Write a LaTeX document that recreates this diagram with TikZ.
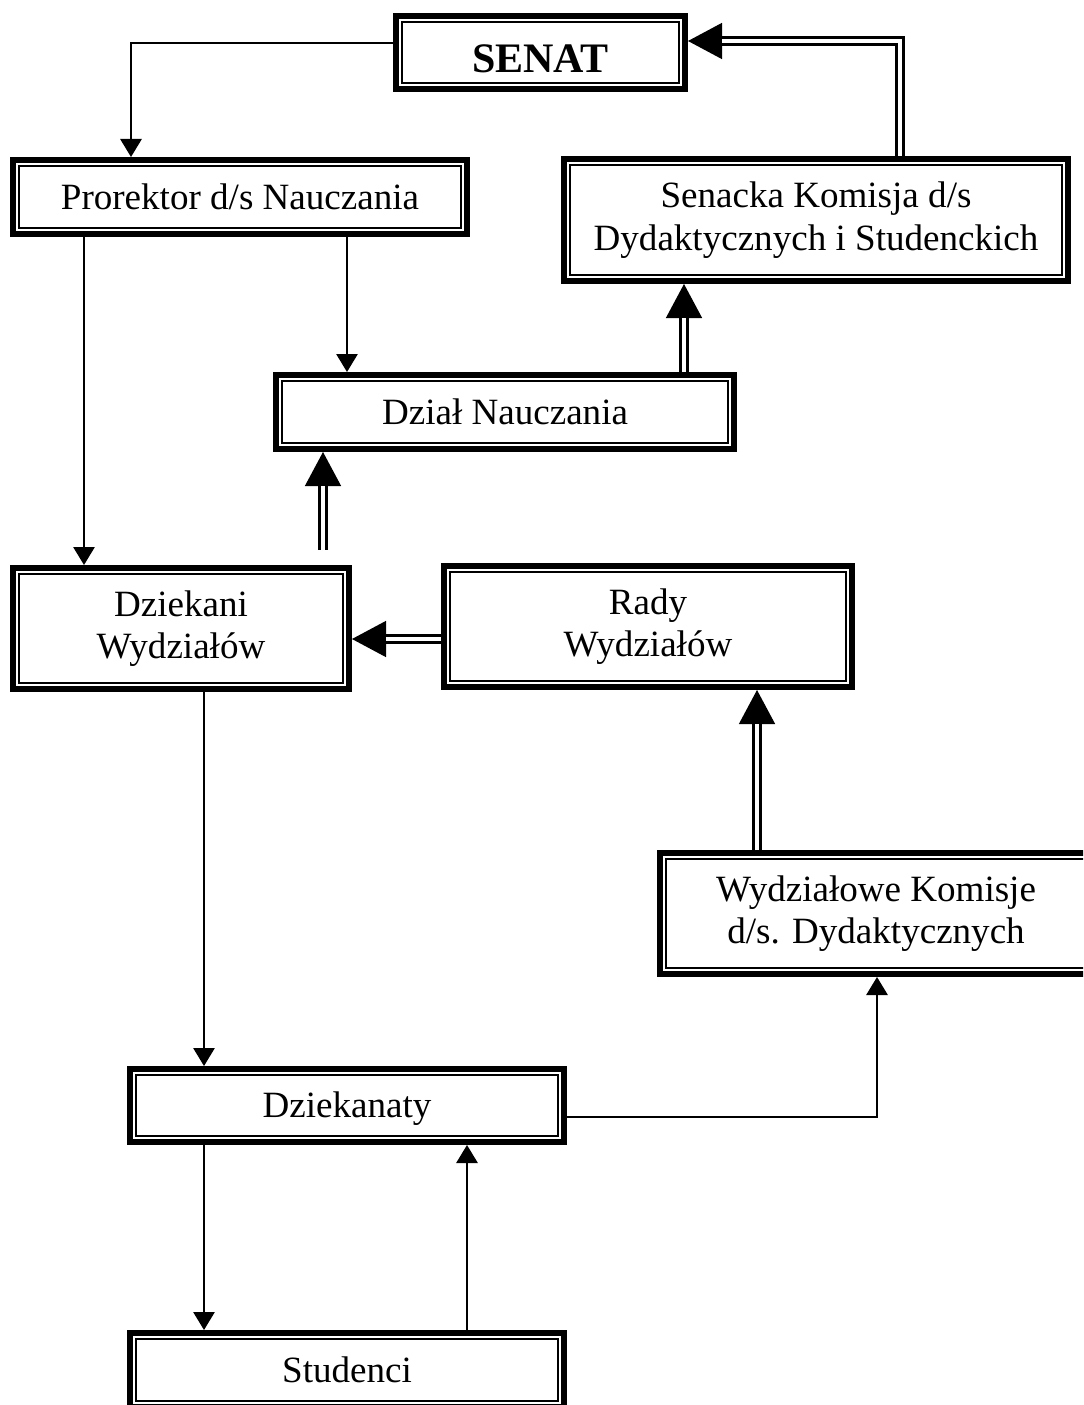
\documentclass[tikz,border=0pt]{standalone}
\usepackage{fontspec}
\setmainfont{Liberation Serif}
\usetikzlibrary{arrows.meta}
\begin{document}
\begin{tikzpicture}[x=0.75pt,y=-0.75pt,
  box/.style={draw, line width=4.5pt, rectangle, inner sep=0pt, align=center,
    font=\fontsize{27.8}{32}\selectfont},
  innerline/.style={line width=1.4pt},
  thinarrow/.style={line width=1.3pt, -{Triangle[length=13.5pt,width=16pt]}},
  bigarrow/.style={line width=1pt, line join=miter, -{Triangle[length=25.5pt,width=27pt]},
    postaction={draw, -, double, line width=2.3pt, double distance=2.4pt, line join=miter, shorten >=25.5pt}}
]
\useasboundingbox (0,0) rectangle (1083,1405);
\clip (0,0) rectangle (1083,1405);
\fill[white] (0,0) rectangle (1083,1405);

% boxes
\node[box, minimum width=216.75pt, minimum height=54.75pt, text height=30pt, text depth=0pt,
  font=\fontsize{31.5}{36}\selectfont\bfseries] (senat) at (540.5,52.5) {SENAT};
\node[box, minimum width=340.5pt, minimum height=55.5pt] (prorektor) at (240,197) {Prorektor d/s Nauczania};
\node[box, minimum width=378pt, minimum height=91.5pt] (senacka) at (816,220) {Senacka Komisja d/s\\Dydaktycznych i Studenckich};
\node[box, minimum width=343.5pt, minimum height=55.5pt] (dzial) at (505,412) {Dział Nauczania};
\node[box, minimum width=252pt, minimum height=90.75pt] (dziekani) at (181,628.5) {Dziekani\\Wydziałów};
\node[box, minimum width=306pt, minimum height=90.75pt] (rady) at (648,626.5) {Rady\\Wydziałów};
\node[box, minimum width=324pt, minimum height=90.75pt] (wydz) at (876,913.5) {Wydziałowe Komisje\\d/s. Dydaktycznych};
\node[box, minimum width=325.5pt, minimum height=54.75pt, text height=22pt, text depth=4pt] (dziekanaty) at (347,1105.5) {Dziekanaty};
\node[box, minimum width=325.5pt, minimum height=55.5pt] (studenci) at (347,1370) {Studenci};

\foreach \n in {senat,prorektor,senacka,dzial,dziekani,rady,wydz,dziekanaty,studenci}
  \draw[innerline] ([shift={(7pt,-7pt)}]\n.north west) rectangle ([shift={(-7pt,7pt)}]\n.south east);

% helper coordinates
\coordinate (xa) at (131,0);
\coordinate (xb) at (84,0);
\coordinate (xc) at (347,0);
\coordinate (xd) at (900,0);
\coordinate (xe) at (684,0);
\coordinate (xg) at (757,0);
\coordinate (xh) at (204,0);
\coordinate (xi) at (877,0);
\coordinate (xj) at (467,0);
\coordinate (ya) at (0,43);
\coordinate (yb) at (0,41);
\coordinate (yc) at (0,639);
\coordinate (yd) at (0,1117);
\coordinate (dstart) at (323,550);

% thin connectors
\draw[thinarrow] (ya -| senat.west) -| (xa |- prorektor.north);
\draw[thinarrow] (xb |- prorektor.south) -- (xb |- dziekani.north);
\draw[thinarrow] (xc |- prorektor.south) -- (xc |- dzial.north);
\draw[thinarrow] (xh |- dziekani.south) -- (xh |- dziekanaty.north);
\draw[thinarrow] (yd -| dziekanaty.east) -| (xi |- wydz.south);
\draw[thinarrow] (xh |- dziekanaty.south) -- (xh |- studenci.north);
\draw[thinarrow] (xj |- studenci.north) -- (xj |- dziekanaty.south);

% double connectors
\draw[bigarrow] (xd |- senacka.north) |- (yb -| senat.east);
\draw[bigarrow] (xe |- dzial.north) -- (xe |- senacka.south);
\draw[bigarrow] (dstart) -- (dstart |- dzial.south);
\draw[bigarrow] (yc -| rady.west) -- (yc -| dziekani.east);
\draw[bigarrow] (xg |- wydz.north) -- (xg |- rady.south);
\end{tikzpicture}
\end{document}
